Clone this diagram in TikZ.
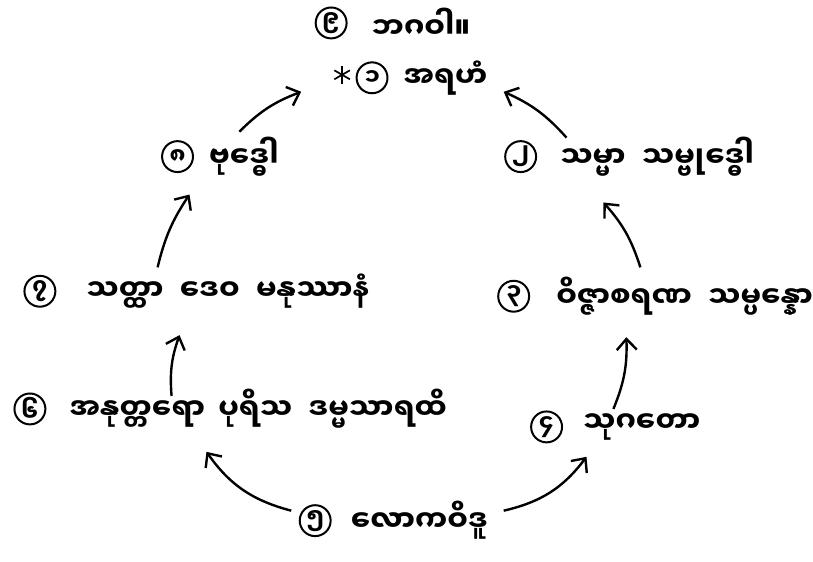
\documentclass[tikz,border=0pt]{standalone}
\usepackage{fontspec}
\newfontfamily\mmfont[Script=Myanmar]{Noto Sans Myanmar UI}
\usetikzlibrary{positioning, arrows.meta}

\begin{document}
\begin{tikzpicture}[x=1pt, y=1pt,
    num/.style={circle, draw, line width=2pt, minimum size=31pt, inner sep=0pt, font=\mmfont\bfseries\fontsize{23}{23}\selectfont},
    word/.style={inner sep=0pt, font=\mmfont\bfseries\fontsize{29}{34}\selectfont},
    arrow/.style={-{Straight Barb[length=11pt, width=20pt]}, line width=2.4pt}]
    \fill[white] (0,0) rectangle (813,-563);

    % Top
    \node[num] (n9) at (332,-23) {၉};
    \node[word, right=24pt of n9] (bhagava) {ဘဂဝါ။};
    \node[num] (n1) at (373,-78) {၁};
    \coordinate (star) at (343,-75);
    \foreach \a in {90,30,-30}
        \draw[line width=1.7pt] ([shift={(\a:9pt)}]star) -- ([shift={(\a+180:9pt)}]star);
    \node[word, right=15pt of n1] (araham) {အရဟံ};

    % Left side
    \node[num] (n8) at (178,-157) {၈};
    \node[word, right=15pt of n8] (buddho) {ဗုဒ္ဓေါ};
    \node[num] (n7) at (40,-292) {၇};
    \node[word, right=30pt of n7] (sattha) {သတ္ထာ\hspace{0.3em} ဒေဝ\hspace{0.3em} မနုဿာနံ};
    \node[num] (n6) at (30,-410) {၆};
    \node[word, right=23pt of n6] (anuttaro) {အနုတ္တရော\hspace{0.2em} ပုရိသ\hspace{0.3em} ဒမ္မသာရထိ};

    % Bottom
    \node[num] (n5) at (316,-522) {၅};
    \node[word, right=19pt of n5] (lokavidu) {လောကဝိဒူ};

    % Right side
    \node[num] (n4) at (548,-428) {၄};
    \node[word, right=20pt of n4] (sugato) {သုဂတော};
    \node[num] (n3) at (515,-297) {၃};
    \node[word, right=26pt of n3] (vijja) {ဝိဇ္ဇာစရဏ\hspace{0.3em} သမ္ပန္နော};
    \node[num] (n2) at (522,-157) {၂};
    \node[word, right=23pt of n2] (samma) {သမ္မာ\hspace{0.3em} သမ္ဗုဒ္ဓေါ};

    % Arrows - left
    \draw[arrow] ([shift={(-24pt,10pt)}]n5.center) to[bend left=20] ([shift={(177pt,-43pt)}]n6.center);
    \draw[arrow] ([shift={(142pt,13pt)}]n6.center) to[bend left=12] ([shift={(140pt,-44pt)}]n7.center);
    \draw[arrow] ([shift={(118pt,24pt)}]n7.center) to[bend left=10] ([shift={(12pt,-38pt)}]n8.center);
    \draw[arrow] ([shift={(62pt,25pt)}]n8.center) to[bend left=12] ([shift={(-71pt,-14pt)}]n1.center);

    % Arrows - right
    \draw[arrow] ([shift={(189pt,10pt)}]n5.center) to[bend right=20] ([shift={(40pt,-30pt)}]n4.center);
    \draw[arrow] ([shift={(67pt,18pt)}]n4.center) to[bend right=12] ([shift={(113pt,-41pt)}]n3.center);
    \draw[arrow] ([shift={(127pt,29pt)}]n3.center) to[bend right=12] ([shift={(83pt,-46pt)}]n2.center);
    \draw[arrow] ([shift={(46pt,19pt)}]n2.center) to[bend right=12] ([shift={(132pt,-14pt)}]n1.center);
\end{tikzpicture}
\end{document}
